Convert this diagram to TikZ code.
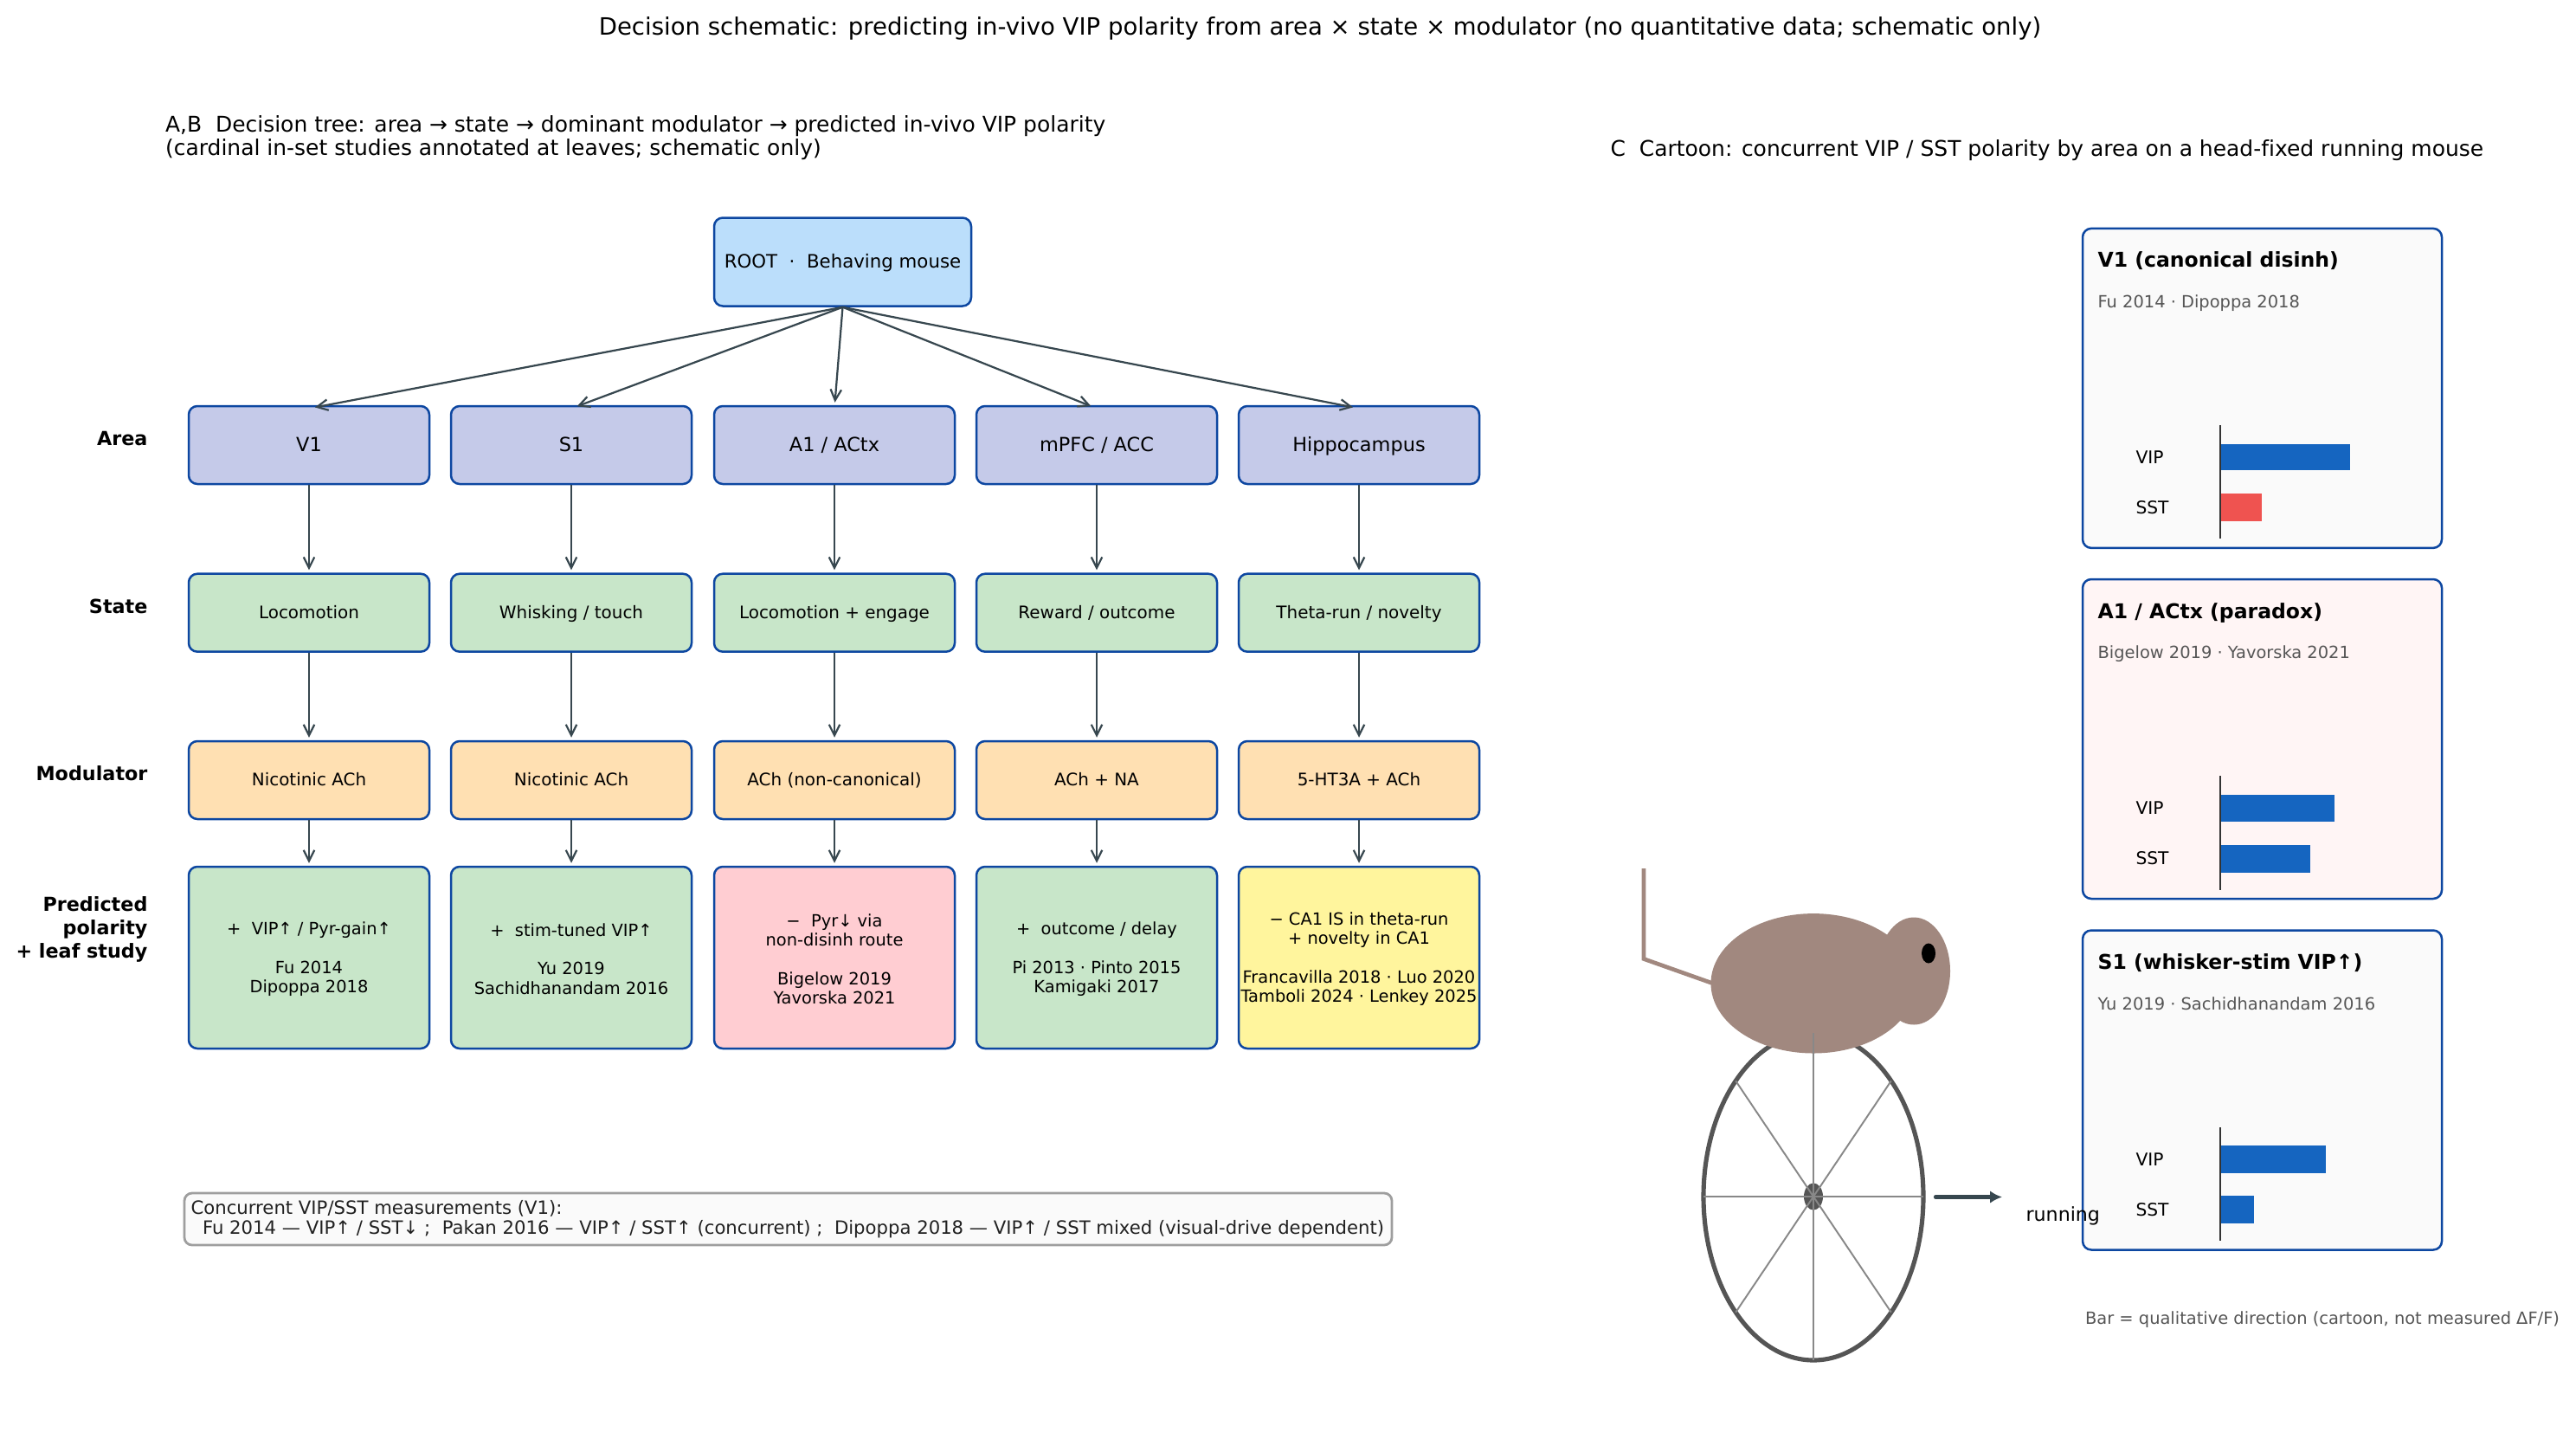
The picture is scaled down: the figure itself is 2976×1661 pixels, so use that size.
\documentclass[tikz,border=0pt]{standalone}
\usepackage{fontspec}
\setmainfont{DejaVu Sans}[Ligatures=NoCommon]
\usetikzlibrary{calc,arrows.meta}
\newlength{\pxu}\setlength{\pxu}{0.36bp}
\definecolor{edgeblue}{HTML}{0D47A1}
\definecolor{rootfill}{HTML}{BBDEFB}
\definecolor{areafill}{HTML}{C5CAE9}
\definecolor{statefill}{HTML}{C8E6C9}
\definecolor{modfill}{HTML}{FFE0B2}
\definecolor{negfill}{HTML}{FFCDD2}
\definecolor{mixfill}{HTML}{FFF59D}
\definecolor{flowcol}{HTML}{37474F}
\definecolor{furcol}{HTML}{A1887F}
\definecolor{rimcol}{HTML}{555555}
\definecolor{spokecol}{HTML}{888888}
\definecolor{barblue}{HTML}{1565C0}
\definecolor{barred}{HTML}{EF5350}
\definecolor{panelfill}{HTML}{FAFAFA}
\definecolor{panelwarm}{HTML}{FFF5F5}
\definecolor{greytext}{HTML}{555555}
\definecolor{noteedge}{HTML}{9E9E9E}
\definecolor{notetext}{HTML}{212121}
\definecolor{axiscol}{HTML}{333333}
\newcommand{\fs}[1]{\fontsize{#1}{8.05}\selectfont}
% Fixed first-line height so leaf captions sit at one level
\newcommand{\leadin}{\rule{0pt}{6.4bp}}
\tikzset{
  x=0.36bp,y=-0.36bp,
  treebox/.style={draw=edgeblue,line width=0.9bp,rounded corners=3.6bp,inner sep=0pt,
    minimum width=278\pxu,align=center,text=black},
  rootbox/.style={treebox,fill=rootfill,minimum width=297\pxu,minimum height=102\pxu,
    font=\fs{7.7},text height=5.9bp,text depth=1.1bp},
  areabox/.style={treebox,fill=areafill,minimum height=90\pxu,
    font=\fs{8.1},text height=6.2bp,text depth=0.9bp},
  statebox/.style={treebox,fill=statefill,minimum height=90\pxu,
    font=\fs{7.2},text height=6bp,text depth=1.3bp},
  modbox/.style={treebox,fill=modfill,minimum height=90\pxu,
    font=\fs{7.2},text height=6bp,text depth=1.3bp},
  leafbox/.style={treebox,minimum height=210\pxu,font=\fs{7.02}},
  flow/.style={draw=flowcol,line width=0.8bp,-{Straight Barb[length=4.5bp,width=4.5bp,line width=0.8bp]}},
  rowlabel/.style={anchor=east,align=right,font={\fs{8.05}\bfseries},inner sep=0pt},
  plain/.style={inner sep=0pt,text=black},
  panelbox/.style={draw=edgeblue,line width=0.9bp,rounded corners=3.6bp,inner sep=0pt,
    minimum width=415\pxu,minimum height=369\pxu},
  paneltitle/.style={plain,anchor=base west,font={\fs{8.5}\bfseries}},
  panelsub/.style={plain,anchor=base west,text=greytext,font=\fs{7.02}},
  barlabel/.style={plain,anchor=base west,font=\fs{7.3}},
  baraxis/.style={draw=axiscol,line width=0.8bp},
}
\begin{document}
\begin{tikzpicture}
\useasboundingbox (0,0) rectangle (2976,1661);

% Headings
\node[plain,font=\fs{9.95}] (title) at (1525,32.5) {Decision schematic: predicting in-vivo VIP polarity from area × state × modulator (no quantitative data; schematic only)};
\node[plain,anchor=west,align=left,font={\fontsize{9.02}{9.6}\selectfont}] (headab) at (190.5,159) {A,B~~Decision tree: area → state → dominant modulator → predicted in-vivo VIP polarity\\(cardinal in-set studies annotated at leaves; schematic only)};
\node[plain,anchor=west,font=\fs{9.02}] (headc) at (1860,174) {C~~Cartoon: concurrent VIP / SST polarity by area on a head-fixed running mouse};

% Row labels
\node[rowlabel] (lblarea) at (171,507) {Area};
\node[rowlabel] (lblstate) at (171,700) {State};
\node[rowlabel] (lblmod) at (171,893) {Modulator};
\node[rowlabel,font={\fontsize{8.05}{9.7}\selectfont\bfseries}] (lblleaf) at (171,1073.5) {Predicted\\polarity\\+ leaf study};

% Decision tree boxes
\node[rootbox] (root) at (973.5,302.5) {ROOT~~·~~Behaving mouse};

\node[areabox] (areaA) at (357,514) {V1};
\node[areabox] (areaB) at (660,514) {S1};
\node[areabox] (areaC) at (964,514) {A1 / ACtx};
\node[areabox] (areaD) at (1267,514) {mPFC / ACC};
\node[areabox] (areaE) at (1570,514) {Hippocampus};

\node[statebox] (stateA) at (357,707.7) {Locomotion};
\node[statebox] (stateB) at (660,707.7) {Whisking / touch};
\node[statebox] (stateC) at (964,707.7) {Locomotion + engage};
\node[statebox] (stateD) at (1267,707.7) {Reward / outcome};
\node[statebox] (stateE) at (1570,707.7) {Theta-run / novelty};

\node[modbox] (modA) at (357,901) {Nicotinic ACh};
\node[modbox] (modB) at (660,901) {Nicotinic ACh};
\node[modbox] (modC) at (964,901) {ACh (non-canonical)};
\node[modbox] (modD) at (1267,901) {ACh + NA};
\node[modbox] (modE) at (1570,901) {5-HT3A + ACh};

\node[leafbox,fill=statefill] (leafA) at (357,1106) {\leadin+~~VIP↑ / Pyr-gain↑\\[8.05pt]Fu 2014\\Dipoppa 2018};
\node[leafbox,fill=statefill] (leafB) at (660,1106) {\leadin+~~stim-tuned VIP↑\\[8.05pt]Yu 2019\\Sachidhanandam 2016};
\node[leafbox,fill=negfill] (leafC) at (964,1106) {\leadin−~~Pyr↓ via\\non-disinh route\\[8.05pt]Bigelow 2019\\Yavorska 2021};
\node[leafbox,fill=statefill] (leafD) at (1267,1106) {\leadin+~~outcome / delay\\[8.05pt]Pi 2013 · Pinto 2015\\Kamigaki 2017};
\node[leafbox,fill=mixfill] (leafE) at (1570,1106) {\leadin− CA1 IS in theta-run\\+ novelty in CA1\\[8.05pt]Francavilla 2018 · Luo 2020\\Tamboli 2024 · Lenkey 2025};

% Connectors from the root fan out slightly past the top edge of each area box
\foreach \c in {A,B,C,D,E}
  \draw[flow,shorten >=7\pxu] (root.south) -- ($(area\c.north)+(0,4)$);
\foreach \c in {A,B,C,D,E}{
  \draw[flow,shorten >=3\pxu] (area\c) -- (state\c);
  \draw[flow,shorten >=3\pxu] (state\c) -- (mod\c);
  \draw[flow,shorten >=3\pxu] (mod\c) -- (leaf\c);
}

% Concurrent-measurement note
\node[draw=noteedge,fill=panelfill,line width=1bp,rounded corners=3.2bp,inner sep=0pt,
  minimum width=1395\pxu,minimum height=60\pxu] (notebox) at (910.5,1408) {};
\node[plain,anchor=west,align=left,text=notetext,font={\fontsize{7.66}{8.3}\selectfont}] (note) at (220,1408) {Concurrent VIP/SST measurements (V1):\\~~Fu 2014 — VIP↑ / SST↓ ;~~Pakan 2016 — VIP↑ / SST↑ (concurrent) ;~~Dipoppa 2018 — VIP↑ / SST mixed (visual-drive dependent)};

% Running mouse on a wheel: rim under the body, spokes over it
\draw[rimcol,line width=1.85bp] (2095,1382) ellipse [x radius=127,y radius=189];
\draw[furcol,line width=1.7bp] (1978,1135.5) -- (1899,1107.5) -- (1899,1003);
\fill[furcol] (2211,1121.5) ellipse [x radius=42,y radius=62];
\fill[furcol] (2095,1135.8) ellipse [x radius=118.5,y radius=80.7];
\fill[black] (2228,1101) ellipse [x radius=8,y radius=11.5];
\fill[rimcol] (2095,1382) ellipse [x radius=11,y radius=15.6];
\foreach \a in {0,45,...,315}
  \draw[spokecol,line width=0.7bp] (2095,1382) -- ++({127*cos(\a)},{189*sin(\a)});
\coordinate (runfrom) at (2236,1382.5);
\coordinate (runto) at (2313,1382.5);
\draw[flowcol,line width=1.5bp,line cap=round,-{Latex[length=5bp,width=5.2bp]}] (runfrom) -- (runto);

% Polarity panels
\node[panelbox,fill=panelfill] (pv) at (2613.5,448.4) {};
\node[paneltitle] at (2423,308.5) {V1 (canonical disinh)};
\node[panelsub] at (2423,355) {Fu 2014 · Dipoppa 2018};
\node[barlabel] at (2467,535) {VIP};
\node[barlabel] at (2467,593) {SST};
\fill[barblue] (2565,513) rectangle (2715,543);
\fill[barred] (2565,570) rectangle (2613,602);
\draw[baraxis] (2565,491) -- (2565,622);

\node[panelbox,fill=panelwarm] (pa) at (2613.5,853.5) {};
\node[paneltitle] at (2423,714) {A1 / ACtx (paradox)};
\node[panelsub] at (2423,760.5) {Bigelow 2019 · Yavorska 2021};
\node[barlabel] at (2467,940.5) {VIP};
\node[barlabel] at (2467,998.5) {SST};
\fill[barblue] (2565,918.3) rectangle (2697,949.3);
\fill[barblue] (2565,976) rectangle (2669,1007.7);
\draw[baraxis] (2565,896) -- (2565,1028);

\node[panelbox,fill=panelfill] (ps) at (2613.5,1259) {};
\node[paneltitle] at (2423,1119.5) {S1 (whisker-stim VIP↑)};
\node[panelsub] at (2423,1166) {Yu 2019 · Sachidhanandam 2016};
\node[barlabel] at (2467,1346) {VIP};
\node[barlabel] at (2467,1404) {SST};
\fill[barblue] (2565,1323.3) rectangle (2687,1354.7);
\fill[barblue] (2565,1381.3) rectangle (2604,1412.7);
\draw[baraxis] (2565,1302.3) -- (2565,1433.3);

% The wheel label runs across the edge of the lowest panel
\node[plain,anchor=base west,font=\fs{8}] (running) at (2340,1410.5) {running};

\node[panelsub] (barnote) at (2408.5,1529) {Bar = qualitative direction (cartoon, not measured ΔF/F)};
\end{tikzpicture}
\end{document}
